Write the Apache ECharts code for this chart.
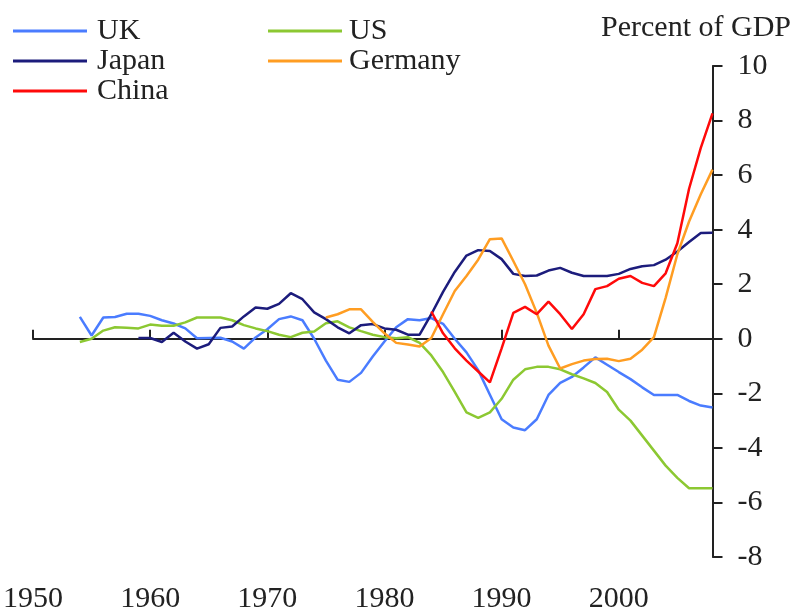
<!DOCTYPE html>
<html>
<head>
<meta charset="utf-8">
<script src="https://cdn.jsdelivr.net/npm/echarts@6/dist/echarts.min.js"></script>
<style>html,body{margin:0;padding:0;background:#fff}#c{width:793px;height:614px}</style>
</head>
<body>
<div id="c"></div>
<script>
var years = [1954,1955,1956,1957,1958,1959,1960,1961,1962,1963,
             1964,1965,1966,1967,1968,1969,1970,1971,1972,1973,
             1974,1975,1976,1977,1978,1979,1980,1981,1982,1983,
             1984,1985,1986,1987,1988,1989,1990,1991,1992,1993,
             1994,1995,1996,1997,1998,1999,2000,2001,2002,2003,
             2004,2005,2006,2007,2008];
var uk = [0.8,0.12,0.78,0.8,0.92,0.92,0.84,0.68,0.56,0.38,
          0.02,0.03,0.04,-0.1,-0.36,0.05,0.35,0.72,0.82,0.68,
          0.0,-0.8,-1.5,-1.58,-1.25,-0.65,-0.1,0.42,0.72,0.68,
          0.76,0.55,0.0,-0.5,-1.15,-2.05,-2.95,-3.25,-3.35,-2.95,
          -2.06,-1.62,-1.4,-1.05,-0.68,-0.95,-1.22,-1.48,-1.78,-2.06,
          -2.06,-2.06,-2.28,-2.45,-2.52];
var us = [-0.12,0.0,0.3,0.42,0.4,0.38,0.52,0.48,0.48,0.6,
          0.78,0.78,0.78,0.68,0.5,0.38,0.28,0.15,0.06,0.22,
          0.27,0.57,0.64,0.42,0.28,0.15,0.06,0.02,0.06,-0.15,
          -0.61,-1.22,-1.95,-2.7,-2.9,-2.7,-2.2,-1.5,-1.12,-1.03,
          -1.03,-1.12,-1.3,-1.45,-1.62,-1.95,-2.6,-3.0,-3.55,-4.1,
          -4.65,-5.1,-5.48,-5.48,-5.48];
var japan = [null,null,null,null,null,0.03,0.03,-0.12,0.22,-0.1,
          -0.36,-0.2,0.4,0.45,0.82,1.15,1.1,1.28,1.67,1.45,
          0.97,0.72,0.42,0.2,0.5,0.54,0.38,0.33,0.15,0.15,
          0.9,1.72,2.45,3.05,3.25,3.22,2.92,2.38,2.3,2.32,
          2.5,2.6,2.42,2.3,2.3,2.3,2.38,2.56,2.66,2.7,
          2.9,3.2,3.55,3.88,3.89];
var germany = [null,null,null,null,null,null,null,null,null,null,
          null,null,null,null,null,null,null,null,null,null,
          null,0.78,0.9,1.08,1.08,0.62,0.2,-0.15,-0.21,-0.28,
          0.03,0.9,1.75,2.3,2.9,3.65,3.68,2.85,2.0,0.95,
          -0.25,-1.09,-0.93,-0.8,-0.74,-0.73,-0.82,-0.73,-0.4,0.06,
          1.5,3.1,4.3,5.3,6.2];
var china = [null,null,null,null,null,null,null,null,null,null,
          null,null,null,null,null,null,null,null,null,null,
          null,null,null,null,null,null,null,null,null,null,
          1.0,0.2,-0.35,-0.8,-1.2,-1.6,-0.35,0.95,1.17,0.9,
          1.36,0.9,0.36,0.9,1.82,1.93,2.2,2.3,2.05,1.93,
          2.4,3.5,5.5,7.0,8.26];
var yTicks = [-8,-6,-4,-2,0,2,4,6,8,10];
var xTicks = [1950,1960,1970,1980,1990,2000];

var FONT = '"Liberation Serif","Times New Roman",serif';
var FS = 30;
var INK = '#222';

function pair(arr){ return years.map(function(y,i){ return [y, arr[i]]; }); }
function line(name, arr, color){
  return {name:name, type:'line', data:pair(arr), showSymbol:false, symbol:'none',
    color:color, lineStyle:{color:color, width:2.5}, connectNulls:false, animation:false};
}

var chart = echarts.init(document.getElementById('c'), null, {renderer:'canvas'});
chart.setOption({
  animation:false,
  title:{text:'Percent of GDP', right:2, top:13, padding:0,
    textStyle:{fontFamily:FONT, fontSize:FS, fontWeight:'normal', color:INK}},
  legend:[
    {data:['UK','Japan','China'], orient:'vertical', left:13, top:16, padding:0,
     icon:'rect', itemWidth:74, itemHeight:3, itemGap:0,
     textStyle:{fontFamily:FONT, fontSize:FS, color:INK, padding:[0,0,0,5]}},
    {data:['US','Germany'], orient:'vertical', left:268, top:16, padding:0,
     icon:'rect', itemWidth:74, itemHeight:3, itemGap:0,
     textStyle:{fontFamily:FONT, fontSize:FS, color:INK, padding:[0,0,0,2]}}
  ],
  grid:{left:31.7, right:80.5, top:66, bottom:52, containLabel:false},
  xAxis:[
    {type:'value', min:xTicks[0], max:2008, interval:10, position:'bottom',
     axisLine:{show:true, onZero:true, lineStyle:{color:INK, width:2}},
     axisTick:{show:true, inside:true, length:9, lineStyle:{color:INK, width:2}},
     axisLabel:{show:false}, splitLine:{show:false}},
    {type:'value', min:xTicks[0], max:2008, interval:10, position:'bottom',
     axisLine:{show:false, onZero:false}, axisTick:{show:false}, splitLine:{show:false},
     axisLabel:{show:true, margin:27, showMaxLabel:false, hideOverlap:false,
       fontFamily:FONT, fontSize:FS, color:INK,
       formatter:function(v){ return xTicks.indexOf(v) >= 0 ? String(v) : ''; }}}
  ],
  yAxis:{type:'value', position:'right', min:yTicks[0], max:yTicks[yTicks.length-1], interval:2,
    axisLine:{show:true, lineStyle:{color:INK, width:2}},
    axisTick:{show:true, inside:false, length:10, lineStyle:{color:INK, width:2}},
    axisLabel:{margin:25, fontFamily:FONT, fontSize:FS, color:INK},
    splitLine:{show:false}},
  series:[
    Object.assign(line('UK', uk, '#4a7cff'), {xAxisIndex:0}),
    Object.assign(line('US', us, '#8cc832'), {xAxisIndex:0}),
    Object.assign(line('Japan', japan, '#1c1c7c'), {xAxisIndex:0}),
    Object.assign(line('Germany', germany, '#ff9d22'), {xAxisIndex:0}),
    Object.assign(line('China', china, '#ff0a0a'), {xAxisIndex:0})
  ]
});
</script>
</body>
</html>
